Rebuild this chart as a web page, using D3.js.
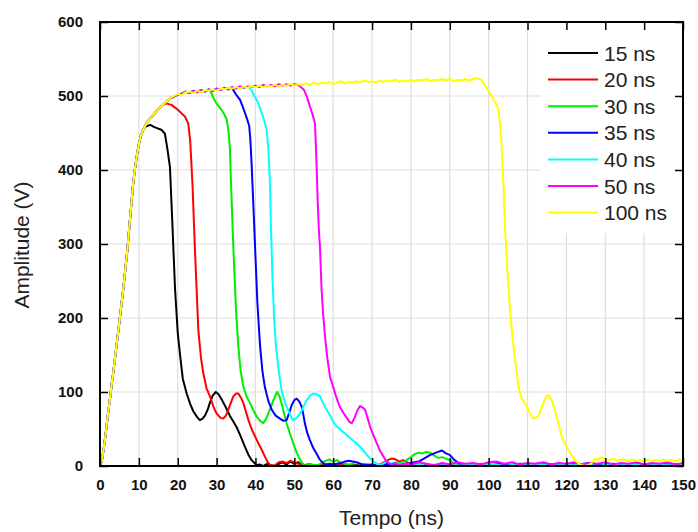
<!DOCTYPE html>
<html>
<head>
<meta charset="utf-8">
<script src="https://cdn.jsdelivr.net/npm/d3@7/dist/d3.min.js"></script>
<style>
  html, body { margin: 0; padding: 0; background: #fff; }
  svg { display: block; }
</style>
</head>
<body>
<svg id="chart" width="698" height="532"></svg>
<script>
// ---------------- DATA ----------------
const xTicks = [0,10,20,30,40,50,60,70,80,90,100,110,120,130,140,150];
const yTicks = [0,100,200,300,400,500,600];
const labels = ["15 ns","20 ns","30 ns","35 ns","40 ns","50 ns","100 ns"];
const colors = ["#000000","#ff0000","#00ee00","#0000ff","#00ffff","#ff00ff","#ffff00"];

// common leading edge [t (ns), V]
const rise = [[0,0],[0.5,8],[1,25],[1.5,45],[2,68],[2.5,88],[3,110],[3.5,130],[4,152],[5,195],[6,240],[7,290],[8,350],[8.5,380],[9,402],[9.5,420],[10,435],[10.5,446],[11,453],[11.5,458],[12,464],[13,470],[14,476],[15,482],[16,487],[17,492],[18,497]];

// flat top shared by 20/30/35/40/50 ns pulses
const plateauA = [[19,499],[20,502],[21,503],[22,506],[23,504],[24,507],[25,505],[26,508],[27,506],[28,509],[29,507],[30,510],[31,508],[32,511],[33,509],[34,512],[35,510],[36,513],[37,511],[38,513],[39,512],[40,514],[41,512],[42,515],[43,513],[44,515],[45,513],[46,516],[47,514],[48,516],[49,514],[50,516],[51,515]];

// flat top of the 100 ns pulse
const plateauY = [[19,500],[20,503],[21,501],[22,505],[23,506],[24,504],[25,507],[26,505],[27,508],[28,507],[29,509],[30,507],[31,510],[32,509],[33,511],[34,510],[35,512],[36,510],[37,513],[38,511],[39,513],[40,512],[41,514],[42,512],[43,514],[44,513],[45,515],[46,513],[47,515],[48,514],[49,516],[50,514],[51,516],[52,515],[53,517],[54,515],[55,518],[56,516],[57,518],[58,517],[59,519],[60,516],[61,518],[62,520],[63,517],[64,519],[65,518],[66,520],[67,518],[68,521],[69,519],[70,520],[71,518],[72,521],[73,519],[74,521],[75,520],[76,522],[77,519],[78,521],[79,520],[80,522],[81,520],[82,522],[83,521],[84,523],[85,520],[86,522],[87,521],[88,523],[89,521],[90,523],[91,520],[92,522],[93,521],[94,523],[95,521],[96,523],[97,524],[98,522]];

// trailing edges and tails
const fall15 = [[12.9,461],[14,458],[15,456],[15.9,454],[16.7,449],[17.3,430],[18,404],[18.6,330],[19.3,240],[20,180],[20.6,150],[21.3,118],[22.3,98],[23.2,84],[24,74],[25,66],[25.7,62],[26.4,64],[27,68],[27.7,76],[28.3,86],[29,95],[29.8,100],[30.5,97],[31.3,90],[32.3,80],[33.4,68],[34.3,60],[35.2,52],[36.2,40],[37.3,26],[38.2,15],[39,8],[40.3,1],[41,2],[42,0],[43,3],[44,1],[45,0],[46,3],[47,5],[48,2],[49,6],[50,3],[51,5],[52,1],[54,2],[56,0],[59,3],[62,0],[65,2],[68,0],[71,1],[74,0],[77,2],[80,0],[83,1],[86,0],[89,2],[92,0],[95,1],[98,0],[101,2],[104,0],[107,1],[110,0],[113,2],[116,0],[119,1],[122,0],[125,2],[128,0],[131,1],[134,0],[137,2],[140,0],[143,1],[146,0],[150,1]];

const fall20 = [[17,490],[18.4,488],[20.1,481],[21.9,472],[22.7,463],[23.2,440],[23.8,380],[24.4,296],[25.3,184],[26,145],[26.6,125],[27.4,105],[28.3,94],[29.2,80],[30,71],[31,65],[31.7,64],[32.4,68],[33,76],[33.7,86],[34.3,94],[35,98],[35.6,98],[36.3,92],[36.9,85],[37.5,74],[38.2,62],[39,50],[39.9,40],[40.8,30],[41.6,22],[42.5,12],[43.3,4],[44,0],[45,1],[46,5],[47,6],[48,4],[49,7],[50,5],[51,3],[52,1],[54,2],[56,0],[58,3],[60,1],[62,2],[64,0],[66,1],[68,2],[70,0],[72,2],[74,8],[75,10],[76,9],[77,6],[78,8],[79,5],[80,2],[83,1],[86,0],[89,2],[92,0],[95,1],[98,3],[101,0],[104,2],[107,0],[110,1],[113,0],[116,2],[119,0],[122,1],[125,0],[128,2],[131,0],[134,1],[137,0],[140,2],[143,0],[146,1],[150,0]];

const fall30 = [[28.7,504],[29.3,496],[30,490],[30.7,485],[31.3,481],[32,475],[32.6,468],[33,455],[33.4,431],[33.8,370],[34.3,296],[35,210],[35.6,161],[36.2,128],[36.9,107],[37.7,94],[38.6,85],[39.5,75],[40.3,67],[41.2,61],[42,58],[42.7,63],[43.3,71],[44,80],[44.6,89],[45.2,96],[45.6,100],[46.2,94],[46.7,85],[47.3,72],[48,58],[48.8,45],[49.7,31],[50.6,18],[51.5,8],[52.2,3],[52.7,0],[54,2],[56,1],[57,4],[58,7],[59,9],[60,6],[61,8],[62,4],[64,2],[66,0],[68,3],[70,1],[72,2],[74,0],[76,3],[78,5],[80,12],[81,16],[82,18],[83,17],[84,19],[85,18],[86,14],[87,11],[88,12],[89,10],[90,8],[91,4],[92,2],[94,1],[97,3],[100,0],[103,2],[106,0],[109,3],[112,1],[115,0],[118,2],[121,0],[124,1],[127,0],[130,2],[133,0],[136,1],[139,0],[142,2],[145,0],[150,1]];

const fall35 = [[34.3,508],[35,502],[36,495],[36.7,486],[37.3,477],[37.9,468],[38.4,459],[38.7,440],[39,409],[39.4,360],[39.9,296],[40.5,220],[41.2,161],[41.8,128],[42.4,107],[43.3,88],[44.2,76],[45.2,68],[46.3,64],[47.2,61],[48,62],[48.7,72],[49.3,82],[50,89],[50.6,91],[51.3,87],[51.9,80],[52.3,70],[52.7,58],[53.3,45],[54,35],[54.8,25],[55.7,17],[56.5,9],[57.4,4],[58,1],[60,2],[62,4],[63,6],[64,7],[65,6],[66,5],[67,3],[68,1],[70,2],[72,0],[74,3],[76,1],[78,2],[80,4],[82,6],[84,12],[85,15],[86,17],[87,19],[88,21],[89,17],[90,15],[91,9],[92,5],[93,2],[94,1],[96,0],[99,2],[102,4],[105,1],[108,3],[111,2],[114,4],[117,1],[120,3],[123,2],[126,4],[129,1],[132,3],[135,2],[138,4],[141,1],[144,3],[147,2],[150,3]];

const fall40 = [[39,508],[39.7,500],[40.3,495],[41,486],[41.6,477],[42.3,466],[42.9,454],[43.3,430],[43.7,386],[44,320],[44.4,251],[44.8,200],[45.3,161],[46,128],[46.7,103],[47.5,87],[48.4,76],[49,68],[49.7,62],[50.6,65],[51.5,71],[52.3,80],[53.2,89],[54,95],[54.9,98],[55.7,97],[56.6,94],[57.4,85],[58.3,76],[59.2,68],[60,60],[60.8,54],[61.7,50],[63,44],[64.3,38],[65.6,32],[66.9,26],[68.2,18],[69.5,10],[70.4,6],[71.2,3],[72,1],[73,4],[74,6],[75,3],[76,5],[77,2],[78,4],[80,1],[82,3],[84,0],[86,2],[88,1],[90,3],[92,0],[95,2],[98,1],[101,3],[104,0],[107,2],[110,1],[113,3],[116,0],[119,2],[122,1],[125,3],[128,0],[131,2],[134,1],[137,3],[140,0],[143,2],[146,1],[150,2]];

const fall50 = [[51.5,513],[52.5,508],[53.3,498],[54,486],[54.7,475],[55.3,463],[55.5,440],[55.7,409],[56,360],[56.3,320],[56.6,296],[57,240],[57.4,206],[57.9,175],[58.5,145],[59.2,120],[60,107],[60.8,93],[61.7,80],[62.6,72],[63.5,65],[64.3,59],[64.8,58],[65.5,65],[66.2,75],[66.9,81],[67.6,79],[68.2,76],[68.9,64],[69.5,53],[70.3,42],[71.2,31],[72,21],[72.9,13],[73.6,7],[74.2,4],[75,2],[76,4],[77,1],[78,3],[80,2],[82,5],[84,3],[86,1],[88,4],[90,2],[92,5],[94,3],[96,4],[98,2],[100,5],[102,6],[104,3],[106,5],[108,2],[110,4],[112,3],[114,5],[116,2],[118,4],[120,3],[122,5],[124,2],[126,4],[128,3],[130,5],[132,2],[134,4],[136,3],[138,5],[140,2],[142,4],[144,3],[146,5],[148,2],[150,4]];

const fall100 = [[99,515],[100.3,504],[101.4,494],[102.5,483],[103,460],[103.3,436],[103.8,380],[104.2,323],[104.8,265],[105.5,211],[106.2,170],[106.8,143],[107.4,118],[108,98],[108.9,88],[109.8,80],[110.7,70],[111.5,64],[112.2,66],[112.8,67],[113.4,76],[114,85],[114.6,92],[115.2,96],[115.7,94],[116.2,89],[116.9,78],[117.5,67],[118.2,52],[118.8,40],[119.6,30],[120.5,22],[121.4,14],[122.2,8],[123,4],[123.9,1],[124.8,0],[125.6,1],[126.5,4],[127.3,10],[128,8],[129,12],[130,9],[131,8],[132,10],[133,7],[134,9],[135,8],[136,6],[137,9],[138,7],[139,8],[140,6],[141,9],[142,7],[143,8],[144,6],[145,9],[146,7],[147,8],[148,6],[149,9],[150,7]];

// cut points (ns) where each pulse leaves the shared rise / plateau
const riseEnd = [11.5, 16, 18, 18, 18, 18, 18];
const plateauEnd = [0, 0, 28, 34, 38.5, 51, 98];

// ---------------- CHART ----------------
const W = 698, H = 532;
const mg = {left: 100, right: 15, top: 22, bottom: 66};
const svg = d3.select("#chart");
const x = d3.scaleLinear().domain([0,150]).range([mg.left, W - mg.right]);
const y = d3.scaleLinear().domain([0,600]).range([H - mg.bottom, mg.top]);
const font = "'Liberation Sans', Arial, Helvetica, sans-serif";

// grid
svg.append("g").selectAll("line").data(xTicks.slice(1,-1)).join("line")
  .attr("x1", d => x(d)).attr("x2", d => x(d))
  .attr("y1", y(0)).attr("y2", y(600))
  .attr("stroke", "#dddddd").attr("stroke-width", 1.2);
svg.append("g").selectAll("line").data(yTicks.slice(1,-1)).join("line")
  .attr("y1", d => y(d)).attr("y2", d => y(d))
  .attr("x1", x(0)).attr("x2", x(150))
  .attr("stroke", "#dddddd").attr("stroke-width", 1.2);

// legend background
const legX = 541, legY = y(600) + 1;
svg.append("rect").attr("x", legX).attr("y", legY)
  .attr("width", x(150) - legX - 1).attr("height", 233 - legY).attr("fill", "#fff");

// series
const plateaus = [null, plateauA, plateauA, plateauA, plateauA, plateauA, plateauY];
const falls = [fall15, fall20, fall30, fall35, fall40, fall50, fall100];
const series = labels.map((lab, i) => {
  let pts = rise.filter(p => p[0] <= riseEnd[i]);
  if (plateauEnd[i] > 0 && plateaus[i]) pts = pts.concat(plateaus[i].filter(p => p[0] > riseEnd[i] && p[0] <= plateauEnd[i]));
  pts = pts.concat(falls[i]);
  return {label: lab, color: colors[i], pts};
});

const line = d3.line().x(d => x(d[0])).y(d => y(d[1]));
svg.append("g").selectAll("path").data(series).join("path")
  .attr("d", d => line(d.pts))
  .attr("fill", "none").attr("stroke", d => d.color)
  .attr("stroke-width", 2).attr("stroke-linejoin", "round");

// axes with inward ticks
const tickLen = 8;
const axB = svg.append("g").attr("transform", `translate(0,${y(0)})`)
  .call(d3.axisBottom(x).tickValues(xTicks).tickSize(-tickLen).tickPadding(tickLen + 5).tickFormat(d3.format("d")));
const axL = svg.append("g").attr("transform", `translate(${x(0)},0)`)
  .call(d3.axisLeft(y).tickValues(yTicks).tickSize(-tickLen).tickPadding(tickLen + 9).tickFormat(d3.format("d")));
const axT = svg.append("g").attr("transform", `translate(0,${y(600)})`)
  .call(d3.axisTop(x).tickValues(xTicks).tickSize(-tickLen).tickFormat(""));
const axR = svg.append("g").attr("transform", `translate(${x(150)},0)`)
  .call(d3.axisRight(y).tickValues(yTicks).tickSize(-tickLen).tickFormat(""));
[axB, axL, axT, axR].forEach(g => {
  g.select(".domain").remove();
  g.selectAll(".tick line").attr("stroke", "#000").attr("stroke-width", 1.5);
  g.selectAll("text").attr("font-family", font).attr("font-size", 15)
    .attr("font-weight", "bold").attr("fill", "#111");
});

// frame
svg.append("rect").attr("x", x(0)).attr("y", y(600))
  .attr("width", x(150) - x(0)).attr("height", y(0) - y(600))
  .attr("fill", "none").attr("stroke", "#000").attr("stroke-width", 2);

// legend
const leg = svg.append("g");
series.forEach((s, i) => {
  const ly = 53 + i * 26.6;
  leg.append("line").attr("x1", 548).attr("x2", 598).attr("y1", ly).attr("y2", ly)
    .attr("stroke", s.color).attr("stroke-width", 2);
  leg.append("text").attr("x", 604).attr("y", ly).attr("dy", "0.36em")
    .attr("font-family", font).attr("font-size", 21).attr("fill", "#222").text(s.label);
});

// axis titles
svg.append("text").attr("x", (x(0) + x(150)) / 2).attr("y", 525)
  .attr("text-anchor", "middle").attr("font-family", font).attr("font-size", 21)
  .attr("fill", "#222").text("Tempo (ns)");
svg.append("text").attr("transform", `translate(29,245) rotate(-90)`)
  .attr("text-anchor", "middle").attr("font-family", font).attr("font-size", 21)
  .attr("fill", "#222").text("Amplitude (V)");
</script>
</body>
</html>
